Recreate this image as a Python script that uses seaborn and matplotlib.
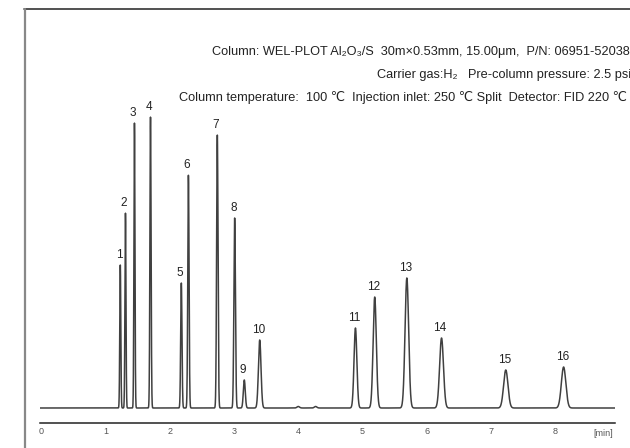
import numpy as np
import pandas as pd
import matplotlib
matplotlib.use('Agg')
import matplotlib.pyplot as plt
from matplotlib.lines import Line2D
import seaborn as sns

# peak table
peak_no = [str(i) for i in range(1, 17)]
ret_time = [1.23, 1.31, 1.45, 1.70, 2.18, 2.29, 2.74, 3.01, 3.16, 3.40,
            4.89, 5.19, 5.69, 6.23, 7.23, 8.13]
height = [143, 195, 285, 291, 125, 233, 273, 190, 28, 68,
          80, 111, 130, 70, 38, 41]
sigma = [0.008, 0.008, 0.008, 0.009, 0.010, 0.010, 0.011, 0.012, 0.015, 0.020,
         0.022, 0.025, 0.028, 0.030, 0.034, 0.035]
# tiny baseline blips near 4 min
blip_time = [4.00, 4.27]
blip_height = [1.5, 1.5]
blip_sigma = [0.02, 0.02]

header = ['Column: WEL-PLOT Al\u2082O\u2083/S  30m\u00d70.53mm, 15.00\u03bcm,  P/N: 06951-52038',
          'Carrier gas:H\u2082   Pre-column pressure: 2.5 psi',
          'Column temperature:  100 \u2103  Injection inlet: 250 \u2103 Split  Detector: FID 220 \u2103']

sns.set_style('white')
plt.rcParams['font.family'] = ['Liberation Sans', 'DejaVu Sans']

t = np.linspace(-0.02, 8.93, 8000)
sig = np.zeros_like(t)
for rt, h, s in zip(ret_time + blip_time, height + blip_height, sigma + blip_sigma):
    sig += h * np.exp(-0.5 * ((t - rt) / s) ** 2)
df = pd.DataFrame({'time': t, 'signal': sig})

fig = plt.figure(figsize=(6.3, 4.48), dpi=100)
ax = fig.add_axes([40/630, 25/448, 575/630, 323/448])
sns.lineplot(data=df, x='time', y='signal', ax=ax, color='#404040', lw=1.1, estimator=None)
ax.set_xlim(-0.02, 8.93)
ax.set_ylim(-15, 308)

for lab, rt, h in zip(peak_no, ret_time, height):
    ax.annotate(lab, (rt, h), xytext=(-1, 3), textcoords='offset points',
                ha='center', va='bottom', fontsize=8.5, color='#222222')

for s in ['top', 'right', 'left']:
    ax.spines[s].set_visible(False)
ax.spines['bottom'].set_color('#222222')
ax.spines['bottom'].set_linewidth(1.1)
ax.set_xticks(range(9))
ax.set_yticks([])
ax.tick_params(axis='x', length=0, pad=3, labelsize=6.5, labelcolor='#555555')
ax.set_xlabel('')
ax.set_ylabel('')
ax.text(8.75, -0.031, '[min]', transform=ax.get_xaxis_transform(),
        ha='center', va='center', fontsize=6.5, color='#555555')

# frame lines of the original figure
fig.add_artist(Line2D([24/630, 1], [1 - 9/448, 1 - 9/448], color='#333333', lw=1.2))
fig.add_artist(Line2D([25/630, 25/630], [0, 1 - 9/448], color='#888888', lw=1.6))

ys = [52, 75, 98]
xs = [630, 631, 627]
for txt, y, x in zip(header, ys, xs):
    fig.text(x/630, 1 - y/448, txt, ha='right', va='center', fontsize=9.2,
             color='#222222')

fig.savefig('out.png', dpi=100)
